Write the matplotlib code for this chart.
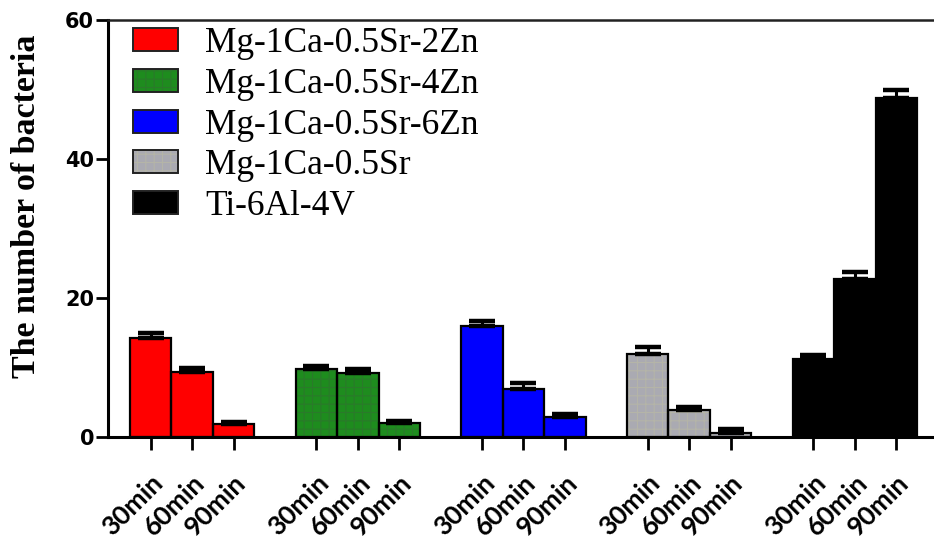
import matplotlib
matplotlib.use("Agg")
import matplotlib.pyplot as plt
from matplotlib.patches import Patch
from matplotlib.legend_handler import HandlerTuple
import numpy as np

# ---- data ----
alloys = ["Mg-1Ca-0.5Sr-2Zn", "Mg-1Ca-0.5Sr-4Zn", "Mg-1Ca-0.5Sr-6Zn",
          "Mg-1Ca-0.5Sr", "Ti-6Al-4V"]
times = ["30min", "60min", "90min"]
means = {
    "Mg-1Ca-0.5Sr-2Zn": [14.2, 9.3, 1.8],
    "Mg-1Ca-0.5Sr-4Zn": [9.75, 9.2, 2.0],
    "Mg-1Ca-0.5Sr-6Zn": [15.9, 6.9, 2.9],
    "Mg-1Ca-0.5Sr": [11.9, 3.85, 0.6],
    "Ti-6Al-4V": [11.2, 22.7, 48.8],
}
errors = {
    "Mg-1Ca-0.5Sr-2Zn": [0.8, 0.6, 0.35],
    "Mg-1Ca-0.5Sr-4Zn": [0.4, 0.55, 0.35],
    "Mg-1Ca-0.5Sr-6Zn": [0.8, 0.8, 0.4],
    "Mg-1Ca-0.5Sr": [1.0, 0.45, 0.5],
    "Ti-6Al-4V": [0.6, 1.0, 1.1],
}
face_colors = ["#ff0000", "#1e8c1e", "#0000ff", "#aaaab2", "#000000"]
hatch_colors = [None, "#2a7a2a", None, "#b4b4a8", None]

plt.rcParams['hatch.linewidth'] = 0.8

fig = plt.figure(figsize=(9.34, 5.53), dpi=100)
ax = fig.add_axes([108/934, 1 - 437/553, 1 - 108/934, (437 - 20)/553])

xticks = []
xlabels = []
handles = []
for g, name in enumerate(alloys):
    x = np.arange(3) + 4 * g
    xticks.extend(x)
    xlabels.extend(times)
    hc = hatch_colors[g]
    if hc is not None:
        ax.bar(x, means[name], width=1.0, color=face_colors[g], edgecolor=hc,
               hatch="++", linewidth=0, zorder=2)
    else:
        ax.bar(x, means[name], width=1.0, color=face_colors[g], linewidth=0, zorder=2)
    ax.bar(x, means[name], width=1.0, fill=False, edgecolor="black",
           linewidth=1.6, zorder=3)
    ax.errorbar(x, means[name], yerr=[np.zeros(3), errors[name]], fmt="none",
                ecolor="black", elinewidth=2.2, capsize=9.5, capthick=3.2,
                zorder=4)
    if hc is not None:
        h = (Patch(facecolor=face_colors[g], edgecolor=hc, hatch="++", linewidth=0),
             Patch(fill=False, edgecolor="#222222", linewidth=1.4))
    else:
        h = (Patch(facecolor=face_colors[g], linewidth=0),
             Patch(fill=False, edgecolor="#222222", linewidth=1.4))
    handles.append(h)

ax.set_xlim(-1.03, 18.91)
ax.set_ylim(0, 60)
ax.set_yticks([0, 20, 40, 60])
ax.set_yticklabels(["0", "20", "40", "60"], fontfamily="DejaVu Sans",
                   fontweight="bold", fontsize=15)
ax.set_xticks(xticks)
ax.set_xticklabels(xlabels, rotation=45, ha="right", rotation_mode="anchor",
                   fontfamily="Lato", fontweight="bold", fontsize=19)
ax.tick_params(axis="both", direction="out", length=9, width=2, color="black")
ax.tick_params(axis="x", pad=15)
ax.tick_params(axis="y", pad=1)

for s in ["left", "bottom"]:
    ax.spines[s].set_linewidth(2.2)
    ax.spines[s].set_color("black")
ax.spines["top"].set_linewidth(1.8)
ax.spines["top"].set_color("#222222")
ax.spines["right"].set_visible(False)

ax.set_ylabel("The number of bacteria", fontfamily="Liberation Serif",
              fontweight="bold", fontsize=24.5)
ax.yaxis.set_label_coords(-0.080, 0.554)

fig.legend(handles, alloys, loc="upper left",
           bbox_to_anchor=(133/934, 1 - 27/553),
           handler_map={tuple: HandlerTuple(ndivide=1)},
           frameon=False, borderpad=0, borderaxespad=0,
           handlelength=1.27, handleheight=0.62, handletextpad=0.76,
           labelspacing=0.22,
           prop={"family": "Liberation Serif", "size": 25.5})

fig.savefig("out.png", dpi=100)
